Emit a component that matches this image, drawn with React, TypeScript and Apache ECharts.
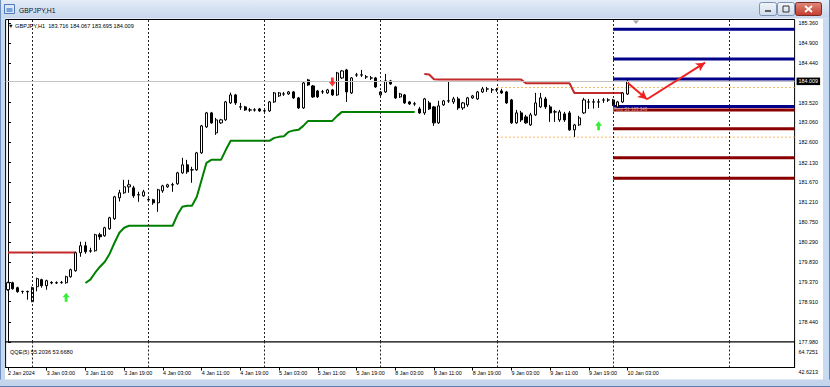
import React, { useEffect, useRef } from 'react';
import * as echarts from 'echarts';

const symbolName = 'GBPJPY,H1';
const tradingDays = ['2 Jan', '3 Jan', '4 Jan', '5 Jan', '8 Jan', '9 Jan', '10 Jan', '11 Jan'];
const firstBarTime = '2 Jan 19:00';
const slotCount = 163;
const firstDateLabel = '2 Jan 2024';
const xTickTimes = ['3 Jan 03:00', '3 Jan 11:00', '3 Jan 19:00', '4 Jan 03:00', '4 Jan 11:00', '4 Jan 19:00', '5 Jan 03:00', '5 Jan 11:00', '5 Jan 19:00', '8 Jan 03:00', '8 Jan 11:00', '8 Jan 19:00', '9 Jan 03:00', '9 Jan 11:00', '9 Jan 19:00', '10 Jan 03:00'];
const priceTicks = [185.36, 184.9, 184.44, 183.52, 183.06, 182.6, 182.13, 181.67, 181.21, 180.75, 180.29, 179.83, 179.37, 178.91, 178.44, 177.98];
const priceMin = 177.978;
const priceMax = 185.441;

// [open, close, low, high]
const candles: number[][] = [
  [179.188, 179.350, 179.165, 179.373],
  [179.350, 179.211, 179.188, 179.373],
  [179.235, 179.142, 179.119, 179.258],
  [179.145, 179.150, 179.096, 179.165],
  [179.150, 179.140, 178.957, 179.165],
  [178.911, 179.235, 178.900, 179.258],
  [179.258, 179.443, 179.150, 179.466],
  [179.420, 179.281, 179.235, 179.443],
  [179.281, 179.396, 179.188, 179.420],
  [179.355, 179.345, 179.315, 179.385],
  [179.345, 179.352, 179.320, 179.380],
  [179.352, 179.358, 179.325, 179.390],
  [179.350, 179.489, 179.327, 179.512],
  [179.489, 179.651, 179.466, 179.674],
  [179.628, 180.044, 179.604, 180.067],
  [180.044, 180.205, 179.951, 180.298],
  [180.205, 180.067, 180.021, 180.298],
  [180.080, 180.090, 180.044, 180.159],
  [180.090, 180.460, 180.067, 180.483],
  [180.460, 180.414, 180.344, 180.506],
  [180.437, 180.622, 180.414, 180.645],
  [180.598, 180.853, 180.575, 180.876],
  [180.830, 181.338, 180.806, 181.361],
  [181.315, 181.431, 181.230, 181.500],
  [181.431, 181.569, 181.407, 181.731],
  [181.569, 181.616, 181.431, 181.731],
  [181.546, 181.361, 181.315, 181.592],
  [181.380, 181.388, 181.223, 181.454],
  [181.361, 181.454, 181.338, 181.500],
  [181.272, 181.265, 181.223, 181.338],
  [181.269, 181.199, 181.153, 181.292],
  [181.199, 181.500, 180.991, 181.523],
  [181.477, 181.592, 181.431, 181.616],
  [181.569, 181.616, 181.546, 181.639],
  [181.610, 181.620, 181.454, 181.662],
  [181.639, 181.893, 181.616, 181.916],
  [181.893, 182.078, 181.870, 182.240],
  [182.078, 181.916, 181.870, 182.193],
  [181.960, 181.965, 181.662, 182.032],
  [181.962, 182.355, 181.939, 182.378],
  [182.355, 182.979, 182.332, 183.002],
  [182.956, 183.280, 182.933, 183.303],
  [183.280, 183.049, 183.026, 183.303],
  [182.818, 183.118, 182.771, 183.164],
  [183.049, 183.118, 183.026, 183.141],
  [183.118, 183.534, 183.095, 183.557],
  [183.511, 183.696, 183.488, 183.749],
  [183.696, 183.511, 183.465, 183.719],
  [183.420, 183.415, 183.349, 183.511],
  [183.419, 183.349, 183.326, 183.442],
  [183.345, 183.350, 183.303, 183.395],
  [183.350, 183.345, 183.310, 183.390],
  [183.372, 183.326, 183.303, 183.395],
  [183.325, 183.330, 183.280, 183.372],
  [183.326, 183.534, 183.303, 183.557],
  [183.534, 183.742, 183.511, 183.765],
  [183.673, 183.742, 183.650, 183.765],
  [183.715, 183.720, 183.673, 183.765],
  [183.719, 183.765, 183.696, 183.788],
  [183.765, 183.627, 183.604, 183.788],
  [183.627, 183.395, 183.372, 183.650],
  [183.395, 183.973, 183.372, 183.996],
  [184.043, 183.927, 183.904, 184.066],
  [183.904, 183.650, 183.627, 183.927],
  [183.788, 183.650, 183.627, 183.812],
  [183.765, 183.770, 183.719, 183.812],
  [183.742, 183.812, 183.719, 183.835],
  [183.812, 183.696, 183.673, 183.835],
  [183.696, 184.205, 183.673, 184.228],
  [184.089, 184.251, 184.066, 184.274],
  [184.274, 183.765, 183.534, 184.297],
  [183.742, 184.089, 183.719, 184.112],
  [184.155, 184.160, 184.112, 184.205],
  [184.160, 184.155, 184.112, 184.274],
  [184.110, 184.115, 184.066, 184.158],
  [184.090, 184.085, 184.043, 184.135],
  [184.089, 183.881, 183.858, 184.112],
  [183.696, 183.765, 183.650, 183.788],
  [183.765, 184.020, 183.742, 184.181],
  [184.020, 183.950, 183.927, 184.043],
  [183.881, 183.627, 183.604, 183.904],
  [183.650, 183.719, 183.627, 183.742],
  [183.696, 183.511, 183.488, 183.719],
  [183.534, 183.488, 183.465, 183.557],
  [183.490, 183.485, 183.442, 183.534],
  [183.372, 183.280, 183.257, 183.419],
  [183.280, 183.604, 183.234, 183.627],
  [183.511, 183.372, 183.349, 183.557],
  [183.419, 183.049, 182.979, 183.442],
  [183.049, 183.442, 183.026, 183.560],
  [183.465, 183.557, 183.442, 183.580],
  [183.555, 183.560, 183.511, 183.996],
  [183.534, 183.604, 183.488, 183.650],
  [183.604, 183.395, 183.349, 183.650],
  [183.395, 183.511, 183.349, 183.534],
  [183.465, 183.627, 183.419, 183.650],
  [183.627, 183.673, 183.604, 183.696],
  [183.604, 183.765, 183.580, 183.788],
  [183.765, 183.835, 183.742, 183.881],
  [183.835, 183.830, 183.765, 183.881],
  [183.812, 183.815, 183.742, 183.858],
  [183.815, 183.810, 183.765, 183.858],
  [183.788, 183.742, 183.719, 183.835],
  [183.765, 183.511, 183.488, 183.788],
  [183.580, 183.049, 183.026, 183.604],
  [183.049, 183.280, 183.026, 183.349],
  [183.280, 183.118, 183.072, 183.326],
  [183.187, 183.049, 183.026, 183.234],
  [183.002, 183.234, 182.979, 183.280],
  [183.234, 183.511, 183.211, 183.742],
  [183.419, 183.627, 183.395, 183.742],
  [183.604, 183.419, 183.372, 183.650],
  [183.419, 183.280, 183.072, 183.465],
  [183.300, 183.305, 183.072, 183.349],
  [183.118, 183.303, 183.072, 183.349],
  [183.257, 183.118, 183.072, 183.303],
  [183.280, 182.887, 182.864, 183.326],
  [182.887, 183.002, 182.725, 183.026],
  [183.002, 183.164, 182.979, 183.211],
  [183.280, 183.580, 183.257, 183.627],
  [183.530, 183.535, 183.372, 183.604],
  [183.535, 183.530, 183.380, 183.604],
  [183.530, 183.536, 183.395, 183.604],
  [183.575, 183.580, 183.511, 183.627],
  [183.580, 183.578, 183.534, 183.620],
  [183.580, 183.465, 183.442, 183.604],
  [183.419, 183.534, 183.395, 183.557],
  [183.534, 183.742, 183.511, 183.765],
  [183.716, 184.009, 183.695, 184.067],
];

const greenFrom = '3 Jan 11:00';
const greenTrail = [
  179.343, 179.420, 179.581, 179.720, 179.836, 180.021, 180.275, 180.506, 180.622,
  180.668, 180.668, 180.668, 180.668, 180.668, 180.668, 180.668, 180.668, 180.668, 180.668,
  180.922, 181.107, 181.130, 181.130, 181.338, 181.731, 182.124, 182.193, 182.193, 182.193, 182.425,
  182.633, 182.633, 182.633, 182.633, 182.633, 182.633, 182.633, 182.633, 182.633,
  182.702, 182.725, 182.737, 182.841, 182.875, 182.887, 182.979,
  183.095, 183.095, 183.095, 183.095, 183.095, 183.095,
  183.211,
  183.303, 183.303, 183.303, 183.303, 183.303, 183.303, 183.303, 183.303,
  183.303, 183.303, 183.303, 183.303, 183.303, 183.303, 183.303, 183.303,
];
const redFromA = '2 Jan 19:00';
const redTrailA = [180.051, 180.051, 180.051, 180.051, 180.051, 180.051, 180.051, 180.051, 180.051, 180.051, 180.051, 180.051, 180.051, 180.051, 180.051];
const redFromB = '8 Jan 09:00';
const redTrailB = [
  184.181, 184.170, 184.059,
  184.050, 184.050, 184.050, 184.050, 184.050, 184.050, 184.050, 184.050, 184.050,
  184.050, 184.050, 184.050, 184.050, 184.050, 184.050, 184.050, 184.050, 184.050,
  183.966, 183.966, 183.966, 183.966, 183.966, 183.966, 183.966, 183.966, 183.966, 183.966,
  183.740, 183.740, 183.740, 183.740, 183.740, 183.740, 183.740, 183.740, 183.740, 183.740, 183.740,
];

const buySignals: [string, number][] = [['3 Jan 07:00', 179.015], ['9 Jan 21:00', 182.98]];
const sellSignals: [string, number][] = [['5 Jan 14:00', 183.996]];
const pivotFrom = '10 Jan 00:00';
const pivotUpper = [185.215, 184.528, 184.066, 183.43];
const pivotLower = [183.349, 182.91, 182.24, 181.77];
const pivotNote = 'Pivot S1 183.349';
const prevDayFrom = '9 Jan 00:00';
const prevDayLevels = [183.869, 182.718];
const arrowPoints: [string, number][] = [['10 Jan 03:00', 183.98], ['10 Jan 07:00', 183.596], ['10 Jan 19:00', 184.442]];
const bidPrice = 184.009;
const qqeName = 'QQE(5)';
const qqeValues = [55.2036, 53.668];
const qqeScale = [64.7251, 42.6213];
const qqeAxisMax = 70.804;

const FONT = '"Liberation Sans", Arial, sans-serif';
const UP_ARROW = 'path://M5 0 L10 5 L7 5 L7 10 L3 10 L3 5 L0 5 Z';
const DOWN_ARROW = 'path://M3 0 L7 0 L7 5 L10 5 L5 10 L0 5 L3 5 Z';

export default function App() {
  const ref = useRef<HTMLDivElement>(null);
  useEffect(() => {
    const allHours: string[] = [];
    tradingDays.forEach((d) => {
      for (let h = 0; h < 24; h++) allHours.push(`${d} ${String(h).padStart(2, '0')}:00`);
    });
    const s0 = allHours.indexOf(firstBarTime);
    const categories = allHours.slice(s0, s0 + slotCount);
    const daySeps = categories.filter((c, i) => i > 0 && c.endsWith(' 00:00'));
    const pad = (from: string, vals: number[], base?: (number | null)[]) => {
      const arr: (number | null)[] = base ? base.slice() : categories.map(() => null);
      const s = categories.indexOf(from);
      vals.forEach((v, i) => { arr[s + i] = v; });
      return arr;
    };
    const greenData = pad(greenFrom, greenTrail);
    const redData = pad(redFromB, redTrailB, pad(redFromA, redTrailA));
    const rightEdge = slotCount - 0.5;
    const pivotStart = categories.indexOf(pivotFrom);
    const prevStart = categories.indexOf(prevDayFrom);
    const last = candles[candles.length - 1];

    const chart = echarts.init(ref.current!, null, { renderer: 'svg' });

    const levelSeries = (vals: number[], color: string, width: number, type: any, startIdx: number) =>
      vals.map((v) => ({
        type: 'line',
        xAxisIndex: 2,
        yAxisIndex: 0,
        silent: true,
        showSymbol: false,
        symbol: 'none',
        data: [[startIdx, v], [rightEdge, v]],
        lineStyle: { color, width, type, cap: 'butt' },
        z: 3,
      }));

    const vSep = (cat: string) => ({ xAxis: cat, lineStyle: { color: '#222', type: [2, 2], width: 1 }, label: { show: false } });

    const option: any = {
      animation: false,
      textStyle: { fontFamily: FONT },
      grid: [
        { left: 5.6, top: 19.5, width: 789, height: 322.5, show: true, borderColor: '#000', borderWidth: 1, backgroundColor: '#fff' },
        { left: 5.6, top: 342, width: 789, height: 25.5, show: true, borderColor: '#000', borderWidth: 1, backgroundColor: '#fff' },
      ],
      xAxis: [
        { type: 'category', gridIndex: 0, data: categories, boundaryGap: true, axisLine: { show: false }, axisTick: { show: false }, axisLabel: { show: false }, splitLine: { show: false } },
        {
          type: 'category', gridIndex: 1, data: categories, boundaryGap: true,
          axisLine: { show: true, lineStyle: { color: '#000', width: 1 } },
          axisTick: { show: true, alignWithLabel: true, length: 3, lineStyle: { color: '#000' }, interval: (i: number, v: string) => i === 0 || xTickTimes.includes(v) },
          axisLabel: {
            show: true, interval: (i: number, v: string) => i === 0 || xTickTimes.includes(v),
            formatter: (v: string, i: number) => (i === 0 ? firstDateLabel : v),
            align: 'left', fontSize: 5.4, color: '#000', margin: 2.5, fontFamily: FONT, hideOverlap: false,
          },
          splitLine: { show: false },
        },
        { type: 'value', gridIndex: 0, min: -0.5, max: rightEdge, show: false, splitLine: { show: false } },
      ],
      yAxis: [
        {
          type: 'value', gridIndex: 0, position: 'right', min: priceMin, max: priceMax, scale: true,
          axisLine: { show: true, lineStyle: { color: '#000', width: 1 } },
          axisTick: { show: true, length: 3, lineStyle: { color: '#000' }, customValues: priceTicks },
          axisLabel: {
            show: true, customValues: priceTicks, formatter: (v: number) => v.toFixed(3), fontSize: 5.4, color: '#000', margin: 4,
            fontFamily: FONT, showMinLabel: true, showMaxLabel: true, hideOverlap: false,
          },
          splitLine: { show: false },
        },
        {
          type: 'value', gridIndex: 1, position: 'right', min: qqeScale[1], max: qqeAxisMax,
          axisLine: { show: true, lineStyle: { color: '#000', width: 1 } },
          axisTick: { show: false },
          axisLabel: {
            show: true, customValues: qqeScale, formatter: (v: number) => v.toFixed(4), fontSize: 5.4, color: '#000', margin: 4,
            verticalAlign: 'top', padding: [2, 0, 0, 0], fontFamily: FONT, showMinLabel: true, showMaxLabel: true, hideOverlap: false,
          },
          splitLine: { show: false },
        },
      ],
      series: [
        {
          type: 'line', xAxisIndex: 1, yAxisIndex: 1, data: categories.map(() => null), showSymbol: false, silent: true,
          markLine: { silent: true, symbol: ['none', 'none'], animation: false, data: daySeps.map(vSep) },
        },
        {
          type: 'candlestick', xAxisIndex: 0, yAxisIndex: 0, data: candles, barWidth: 2.6, silent: true, z: 4,
          itemStyle: { color: '#ffffff', color0: '#000000', borderColor: '#000000', borderColor0: '#000000', borderWidth: 1 },
          markLine: {
            silent: true, symbol: ['none', 'none'], animation: false,
            data: [
              ...daySeps.map(vSep),
              {
                yAxis: bidPrice,
                lineStyle: { color: '#c4c4c4', type: 'solid', width: 1 },
                label: {
                  show: true, position: 'end', distance: 2, formatter: () => bidPrice.toFixed(3),
                  color: '#fff', backgroundColor: '#000', padding: [1.5, 2, 1, 2], fontSize: 5.4, fontFamily: FONT,
                },
              },
              [
                { coord: arrowPoints[0], symbol: 'none', lineStyle: { color: '#f02020', width: 2, type: 'solid' }, label: { show: false } },
                { coord: arrowPoints[1], symbol: 'arrow', symbolSize: [7, 9] },
              ],
              [
                { coord: arrowPoints[1], symbol: 'none', lineStyle: { color: '#f02020', width: 2, type: 'solid' }, label: { show: false } },
                { coord: arrowPoints[2], symbol: 'arrow', symbolSize: [7, 9] },
              ],
            ],
          },
        },
        {
          type: 'line', xAxisIndex: 0, yAxisIndex: 0, data: greenData, showSymbol: false, symbol: 'none', connectNulls: false, silent: true,
          lineStyle: { color: '#008000', width: 2 }, z: 3,
        },
        {
          type: 'line', xAxisIndex: 0, yAxisIndex: 0, data: redData, showSymbol: false, symbol: 'none', connectNulls: false, silent: true,
          lineStyle: { color: '#c42a2a', width: 2 }, z: 3,
        },
        ...levelSeries(prevDayLevels, '#f4b45c', 1, [2, 2], prevStart),
        ...levelSeries(pivotUpper, '#000088', 3, 'solid', pivotStart),
        ...levelSeries(pivotLower, '#8a0000', 3, 'solid', pivotStart),
        {
          type: 'scatter', xAxisIndex: 2, yAxisIndex: 0, silent: true, symbolSize: 0,
          data: [[pivotStart, pivotLower[0]]],
          label: { show: true, position: 'right', distance: 0, formatter: pivotNote, fontSize: 4.5, color: '#f0c8c8', fontFamily: FONT },
          z: 5,
        },
        {
          type: 'scatter', xAxisIndex: 0, yAxisIndex: 0, silent: true, data: buySignals,
          symbol: UP_ARROW, symbolSize: [7, 9], itemStyle: { color: '#00ee00' }, z: 5,
        },
        {
          type: 'scatter', xAxisIndex: 0, yAxisIndex: 0, silent: true, data: sellSignals,
          symbol: DOWN_ARROW, symbolSize: [7, 9], itemStyle: { color: '#ff0000' }, z: 5,
        },
      ],
      graphic: [
        {
          type: 'rect', shape: { x: 0, y: 0, width: 830, height: 18.5 }, silent: true,
          style: { fill: new echarts.graphic.LinearGradient(0, 0, 0, 1, [{ offset: 0, color: '#e3ecf7' }, { offset: 1, color: '#c6d6eb' }]) },
        },
        { type: 'rect', shape: { x: 4.5, y: 4.5, width: 10, height: 9 }, silent: true, style: { fill: '#dbe8f8', stroke: '#4f79b8', lineWidth: 1 } },
        { type: 'rect', shape: { x: 6.5, y: 8, width: 6, height: 4 }, silent: true, style: { fill: '#79a1d8' } },
        { type: 'text', x: 19, y: 10, silent: true, style: { text: symbolName, fontSize: 6.8, fontFamily: FONT, fill: '#111', verticalAlign: 'middle' } },
        {
          type: 'rect', shape: { x: 759.5, y: 2.5, width: 17, height: 13, r: 2 }, silent: true,
          style: { fill: new echarts.graphic.LinearGradient(0, 0, 0, 1, [{ offset: 0, color: '#f2f6fb' }, { offset: 1, color: '#cfdbea' }]), stroke: '#7d92b2', lineWidth: 1 },
        },
        { type: 'line', shape: { x1: 765, y1: 11, x2: 771, y2: 11 }, silent: true, style: { stroke: '#333', lineWidth: 1.5 } },
        {
          type: 'rect', shape: { x: 777.5, y: 2.5, width: 17, height: 13, r: 2 }, silent: true,
          style: { fill: new echarts.graphic.LinearGradient(0, 0, 0, 1, [{ offset: 0, color: '#f2f6fb' }, { offset: 1, color: '#cfdbea' }]), stroke: '#7d92b2', lineWidth: 1 },
        },
        { type: 'rect', shape: { x: 783, y: 6, width: 6, height: 6 }, silent: true, style: { fill: 'none', stroke: '#333', lineWidth: 1 } },
        {
          type: 'rect', shape: { x: 795.5, y: 2.5, width: 26, height: 13, r: 2 }, silent: true,
          style: { fill: new echarts.graphic.LinearGradient(0, 0, 0, 1, [{ offset: 0, color: '#e08a7c' }, { offset: 1, color: '#c43b2c' }]), stroke: '#7a2a22', lineWidth: 1 },
        },
        { type: 'line', shape: { x1: 805, y1: 6, x2: 812, y2: 12 }, silent: true, style: { stroke: '#fff', lineWidth: 1.8 } },
        { type: 'line', shape: { x1: 812, y1: 6, x2: 805, y2: 12 }, silent: true, style: { stroke: '#fff', lineWidth: 1.8 } },
        { type: 'rect', shape: { x: 0, y: 18.5, width: 5, height: 362 }, silent: true, style: { fill: '#c8d8ed' } },
        { type: 'line', shape: { x1: 0.5, y1: 0, x2: 0.5, y2: 387 }, silent: true, style: { stroke: '#6f8fbf', lineWidth: 1 } },
        { type: 'rect', shape: { x: 823, y: 18.5, width: 7, height: 362 }, silent: true, style: { fill: '#c9dbf1' } },
        { type: 'line', shape: { x1: 829.5, y1: 0, x2: 829.5, y2: 387 }, silent: true, style: { stroke: '#5d7fb4', lineWidth: 1 } },
        { type: 'rect', shape: { x: 0, y: 379.5, width: 830, height: 7.5 }, silent: true, style: { fill: '#c5d6ec' } },
        { type: 'line', shape: { x1: 0, y1: 386.5, x2: 830, y2: 386.5 }, silent: true, style: { stroke: '#5d7fb4', lineWidth: 1 } },
        {
          type: 'text', x: 8, y: 26, silent: true, z: 10,
          style: {
            text: `▼ ${symbolName}  ${last[0].toFixed(3)} ${last[3].toFixed(3)} ${last[2].toFixed(3)} ${last[1].toFixed(3)}`,
            fontSize: 5.6, fontFamily: FONT, fill: '#000', verticalAlign: 'middle',
          },
        },
        {
          type: 'text', x: 10, y: 351.7, silent: true, z: 10,
          style: { text: `${qqeName} ${qqeValues[0].toFixed(4)} ${qqeValues[1].toFixed(4)}`, fontSize: 5.6, fontFamily: FONT, fill: '#000', verticalAlign: 'middle' },
        },
        { type: 'polygon', shape: { points: [[633, 20.5], [639, 20.5], [636, 24]] }, silent: true, z: 10, style: { fill: '#a8a8a8' } },
      ],
    };

    chart.setOption(option);
    return () => chart.dispose();
  }, []);

  return <div ref={ref} style={{ position: 'fixed', left: 0, top: 0, width: 830, height: 387, background: '#fff' }} />;
}
